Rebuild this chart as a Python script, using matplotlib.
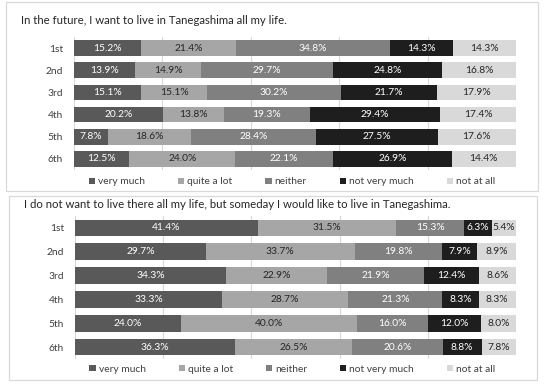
import matplotlib
matplotlib.use("Agg")
import matplotlib.pyplot as plt
from matplotlib.patches import Rectangle
import numpy as np

plt.rcParams['font.family'] = ['Lato', 'DejaVu Sans']

grades = ["1st", "2nd", "3rd", "4th", "5th", "6th"]
categories = ["very much", "quite a lot", "neither", "not very much", "not at all"]
colors = ["#595959", "#a6a6a6", "#808080", "#1e1e1e", "#d9d9d9"]
text_colors = ["white", "#262626", "white", "white", "#262626"]

title_top = "In the future, I want to live in Tanegashima all my life."
top_very_much = [15.2, 13.9, 15.1, 20.2, 7.8, 12.5]
top_quite_a_lot = [21.4, 14.9, 15.1, 13.8, 18.6, 24.0]
top_neither = [34.8, 29.7, 30.2, 19.3, 28.4, 22.1]
top_not_very_much = [14.3, 24.8, 21.7, 29.4, 27.5, 26.9]
top_not_at_all = [14.3, 16.8, 17.9, 17.4, 17.6, 14.4]

title_bot = "I do not want to live there all my life, but someday I would like to live in Tanegashima."
bot_very_much = [41.4, 29.7, 34.3, 33.3, 24.0, 36.3]
bot_quite_a_lot = [31.5, 33.7, 22.9, 28.7, 40.0, 26.5]
bot_neither = [15.3, 19.8, 21.9, 21.3, 16.0, 20.6]
bot_not_very_much = [6.3, 7.9, 12.4, 8.3, 12.0, 8.8]
bot_not_at_all = [5.4, 8.9, 8.6, 8.3, 8.0, 7.8]

W, H = 550, 386
fig = plt.figure(figsize=(W / 100, H / 100), dpi=100)

def fx(px):
    return px / W

def fy(py):
    return 1 - py / H

# panel borders
for (x0, y0, x1, y1) in [(6, 2, 538, 191), (9, 196, 537, 380)]:
    fig.patches.append(Rectangle((fx(x0), fy(y1)), fx(x1 - x0), (y1 - y0) / H,
                                 transform=fig.transFigure, fill=False,
                                 edgecolor="#d9d9d9", linewidth=0.9))

def panel(title, tx, ty, series, ax_box, legend_y):
    left, top, right, bottom = ax_box
    ax = fig.add_axes([fx(left), fy(bottom), fx(right - left), (bottom - top) / H])
    fig.text(fx(tx), fy(ty), title, fontsize=8.2, color="#262626", va="center", ha="left")
    y = np.arange(len(grades))
    cum = np.zeros(len(grades))
    handles = []
    for i, (cat, vals) in enumerate(zip(categories, series)):
        vals = np.array(vals)
        b = ax.barh(y, vals, left=cum, height=0.7, color=colors[i], label=cat, zorder=3)
        handles.append(b)
        for yy, c, v in zip(y, cum, vals):
            ax.text(c + v / 2, yy, f"{v:.1f}%", ha="center", va="center",
                    fontsize=7.4, color=text_colors[i], zorder=4)
        cum += vals
    ax.set_ylim(len(grades) - 0.5, -0.5)
    ax.set_xlim(0, 100)
    ax.set_yticks(y)
    ax.set_yticklabels(grades, fontsize=7.4, color="#404040")
    ax.set_xticks([0, 20, 40, 60, 80, 100])
    ax.tick_params(axis="x", length=0, labelbottom=False)
    ax.tick_params(axis="y", length=0, pad=8)
    ax.grid(axis="x", color="#d9d9d9", linewidth=0.8, zorder=0)
    for s in ax.spines.values():
        s.set_visible(False)
    fig.legend(handles=handles, labels=categories, loc="center",
               bbox_to_anchor=(fx((left + right) / 2 - 3), fy(legend_y)),
               ncol=5, frameon=False, fontsize=7.4, handlelength=0.6,
               handleheight=0.6, handletextpad=0.3, columnspacing=3.2,
               labelcolor="#404040")
    return ax

panel(title_top, 21, 21,
      [top_very_much, top_quite_a_lot, top_neither, top_not_very_much, top_not_at_all],
      (74, 37, 516, 170), 182)
panel(title_bot, 24, 205,
      [bot_very_much, bot_quite_a_lot, bot_neither, bot_not_very_much, bot_not_at_all],
      (75, 216, 516, 359), 369)

fig.savefig("out.png", dpi=100)
